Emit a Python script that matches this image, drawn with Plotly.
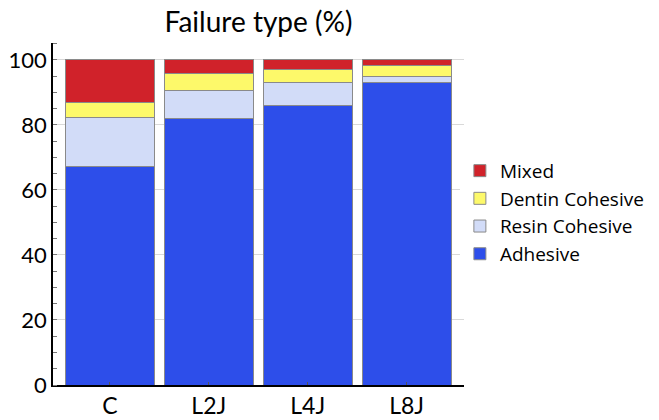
import plotly.graph_objects as go

categories = ["C", "L2J", "L4J", "L8J"]
adhesive = [67.3, 82.1, 85.9, 93.1]
resin_cohesive = [15.0, 8.4, 7.0, 1.9]
dentin_cohesive = [4.5, 5.2, 4.2, 3.15]
mixed = [13.2, 4.3, 2.9, 1.85]

series = [
    ("Adhesive", adhesive, "#2D4EEA"),
    ("Resin Cohesive", resin_cohesive, "#D2DCF8"),
    ("Dentin Cohesive", dentin_cohesive, "#FDF96A"),
    ("Mixed", mixed, "#D0222A"),
]

font = "Lato, 'Open Sans', sans-serif"
fig = go.Figure()
for name, vals, col in series:
    fig.add_trace(go.Bar(
        x=categories, y=vals, name=name,
        marker=dict(color=col, line=dict(color="#8a8a8a", width=1)),
    ))

fig.update_layout(
    barmode="stack", bargap=0.1,
    width=659, height=420,
    margin=dict(l=53, r=195, t=43, b=35, autoexpand=False),
    plot_bgcolor="white", paper_bgcolor="white",
    font=dict(family=font, color="black"),
    title=dict(text="Failure type (%)", x=(53 + 464) / 2 / 659, xanchor="center",
               xref="container",
               y=1 - 22 / 420, yanchor="middle", font=dict(size=28, family=font)),
    legend=dict(traceorder="reversed", x=0.99, xanchor="left", y=0.505, yanchor="middle",
                font=dict(size=19, family="'Open Sans', sans-serif"), itemwidth=30,
                tracegroupgap=0),
    xaxis=dict(range=[-0.575, 3.58], showline=True, linecolor="black", linewidth=1.5,
               ticks="inside", ticklen=3, tickcolor="#555", tickfont=dict(size=23),
               showgrid=False, automargin=False),
    yaxis=dict(range=[0, 105.2], showline=True, linecolor="black", linewidth=1.5,
               tickvals=[0, 20, 40, 60, 80, 100], ticks="outside", ticklen=0,
               tickfont=dict(size=22), showgrid=True, gridcolor="#d9d9d9", gridwidth=1,
               zeroline=False, automargin=False,
               minor=dict(dtick=5, ticks="inside", ticklen=4, tickcolor="#777", showgrid=False)),
)

fig.write_html("out.html", config={"displayModeBar": False},
               post_script="document.body.style.margin='0';document.body.style.padding='0';")
